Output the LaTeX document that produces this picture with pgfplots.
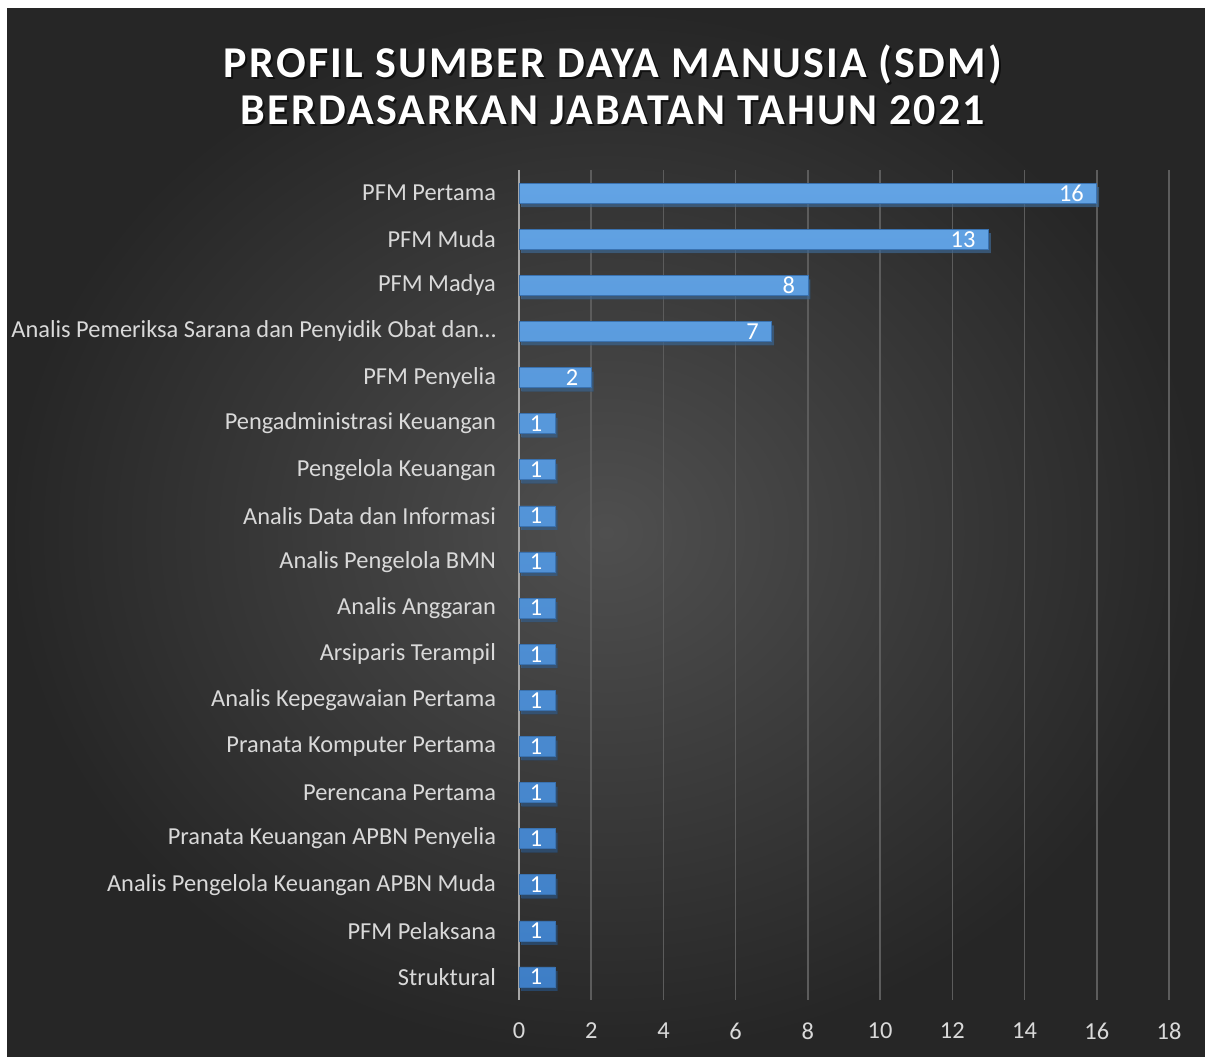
\documentclass[border=0pt]{standalone}
\usepackage{fontspec}
\setmainfont{Carlito}
\usepackage{pgfplots}
\pgfplotsset{compat=1.18}

\definecolor{bgin}{HTML}{4F4F4F}
\definecolor{bgout}{HTML}{262626}
\definecolor{labc}{HTML}{D9D9D9}
\definecolor{gridc}{HTML}{5C5C5C}
\definecolor{axc}{HTML}{A6A6A6}
\definecolor{bartop}{HTML}{62A3E4}
\definecolor{barbot}{HTML}{3E7EC6}
\definecolor{baredge}{HTML}{3A72B0}

\newcommand{\titlefont}{\fontsize{22}{23.5}\selectfont\bfseries\addfontfeature{LetterSpace=5}}

\begin{document}
\begin{tikzpicture}
\useasboundingbox (0,0) rectangle (602.5pt,528pt);
\fill[white] (0,0) rectangle (602.5pt,528pt);
\shade[inner color=bgin, outer color=bgout] (3.5pt,0) rectangle (602.5pt,523.5pt);

% title, with a soft shadow under it
\node[align=center, text=black, opacity=0.6, font=\titlefont]
  at (307.5pt,484.5pt) {PROFIL SUMBER DAYA MANUSIA (SDM)\\BERDASARKAN JABATAN TAHUN 2021};
\node[align=center, text=white, font=\titlefont]
  at (306.5pt,485.5pt) {PROFIL SUMBER DAYA MANUSIA (SDM)\\BERDASARKAN JABATAN TAHUN 2021};

\begin{axis}[
    at={(259.5pt,28pt)}, anchor=south west,
    scale only axis, width=325pt, height=415pt,
    xmin=0, xmax=18, ymin=-0.5, ymax=17.5,
    y dir=reverse,
    xbar, bar width=10pt,
    xtick={0,2,...,18},
    ytick={0,...,17},
    yticklabels={PFM Pertama, PFM Muda, PFM Madya,
      Analis Pemeriksa Sarana dan Penyidik Obat dan…,
      PFM Penyelia, Pengadministrasi Keuangan, Pengelola Keuangan,
      Analis Data dan Informasi, Analis Pengelola BMN, Analis Anggaran,
      Arsiparis Terampil, Analis Kepegawaian Pertama, Pranata Komputer Pertama,
      Perencana Pertama, Pranata Keuangan APBN Penyelia,
      Analis Pengelola Keuangan APBN Muda, PFM Pelaksana, Struktural},
    axis line style={draw=none},
    major tick length=0pt,
    xmajorgrids,
    grid style={color=gridc, line width=0.75pt},
    extra x ticks={0}, extra x tick labels={},
    extra x tick style={grid style={color=axc, line width=0.9pt}},
    ticklabel style={font=\fontsize{12.2}{14}\selectfont, color=labc},
    /pgf/number format/assume math mode=true,
    xticklabel style={yshift=-8pt},
    yticklabel style={xshift=-8pt},
    nodes near coords,
    every node near coord/.append style={anchor=east, xshift=-3pt,
      font=\fontsize{12.2}{14}\selectfont, text=white},
    clip=false,
]
\addplot[draw=baredge, line width=0.3pt, top color=bartop, bottom color=barbot,
  preaction={draw=none, fill=black, fill opacity=0.45,
    transform canvas={xshift=1.2pt, yshift=-2pt}}]
  coordinates {
  (16,0) (13,1) (8,2) (7,3) (2,4) (1,5) (1,6) (1,7) (1,8)
  (1,9) (1,10) (1,11) (1,12) (1,13) (1,14) (1,15) (1,16) (1,17)
  };
\end{axis}
\end{tikzpicture}
\end{document}
